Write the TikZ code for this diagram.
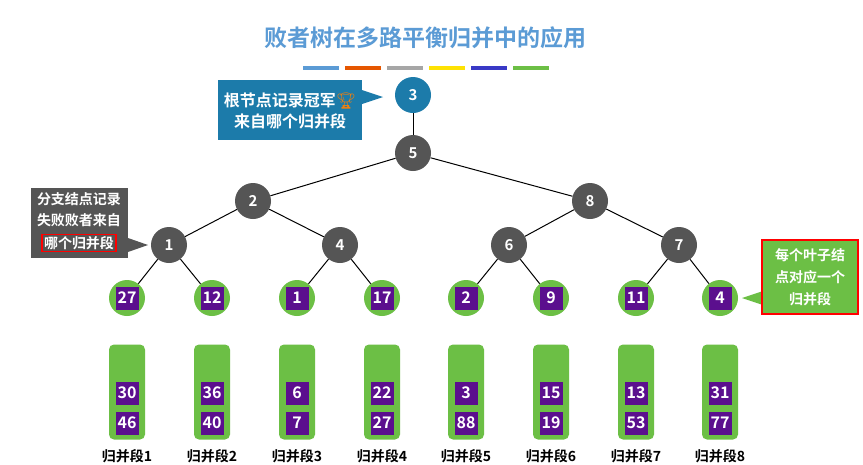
\documentclass[tikz,border=0pt]{standalone}
\usepackage{fontspec}
\setmainfont{Noto Sans CJK SC}[BoldFont={Noto Sans CJK SC Bold}]
\newfontfamily\emo{Noto Emoji}
\definecolor{tblue}{HTML}{5B9BD5}
\definecolor{rblue}{HTML}{1C7BAA}
\definecolor{dgray}{HTML}{555555}
\definecolor{lgreen}{HTML}{6CBF45}
\definecolor{purp}{HTML}{5B0F8E}
\begin{document}
\begin{tikzpicture}[x=1pt,y=-1pt,
  inner/.style={circle,fill=dgray,text=white,minimum size=36pt,inner sep=0,font=\bfseries\fontsize{15}{15}\selectfont},
  leaf/.style={circle,fill=lgreen,minimum size=36pt,inner sep=0},
  sq/.style={fill=purp,text=white,minimum size=23pt,inner sep=0,font=\bfseries\fontsize{16}{16}\selectfont},
  col/.style={fill=lgreen,rounded corners=5pt,minimum width=36pt,minimum height=95pt,inner sep=0},
  lab/.style={font=\bfseries\fontsize{14}{14}\selectfont},
  edge/.style={line width=1pt,black}]
\useasboundingbox[fill=white] (0,0) rectangle (863,464);
\node[text=tblue,font=\bfseries\fontsize{23}{23}\selectfont] (title) at (425,38) {败者树在多路平衡归并中的应用};
\foreach \c/\x in {tblue/303,orange!75!red!90!black/345,gray!70/387,yellow!85!orange/429,blue!55!gray/471,lgreen/513}
  \fill[\c] (\x,66) rectangle ++(36,4);
\node[inner,fill=rblue] (r) at (413,95) {3};
\node[inner] (n5) at (413,153) {5};
\node[inner] (n2) at (253,201) {2};
\node[inner] (n8) at (590,201) {8};
\node[inner] (n1) at (169,245) {1};
\node[inner] (n4) at (340,245) {4};
\node[inner] (n6) at (509,245) {6};
\node[inner] (n7) at (679,245) {7};
\draw[edge] (r)--(n5); \draw[edge] (n5)--(n2); \draw[edge] (n5)--(n8);
\draw[edge] (n2)--(n1); \draw[edge] (n2)--(n4); \draw[edge] (n8)--(n6); \draw[edge] (n8)--(n7);
\foreach \i/\x/\v/\a/\b in {1/127/27/30/46,2/212/12/36/40,3/297/1/6/7,4/382/17/22/27,5/466/2/3/88,6/551/9/15/19,7/636/11/13/53,8/720/4/31/77}{
  \node[leaf] (l\i) at (\x,298) {};
  \node[sq] (s\i) at (l\i) {\v};
  \node[col] (c\i) at (\x,392) {};
  \node[sq] (a\i) at (\x,393) {\a};
  \node[sq] (b\i) at (\x,423) {\b};
  \node[lab] (t\i) at (\x,456) {归并段\i};
}
\draw[edge] (n1)--(l1); \draw[edge] (n1)--(l2); \draw[edge] (n4)--(l3); \draw[edge] (n4)--(l4);
\draw[edge] (n6)--(l5); \draw[edge] (n6)--(l6); \draw[edge] (n7)--(l7); \draw[edge] (n7)--(l8);
% callouts
\fill[rblue] (218,80) rectangle (362,140);
\fill[rblue] (362,90) -- (383,97) -- (362,104) -- cycle;
\node[text=white,font=\bfseries\fontsize{16}{21}\selectfont,align=center] (cb) at (290,111) {根节点记录冠军{\color{orange!80!brown}\emo 🏆}\\来自哪个归并段};
\fill[dgray] (31,188) rectangle (128,258);
\fill[dgray] (128,238) -- (148,245) -- (128,252) -- cycle;
\node[text=white,font=\bfseries\fontsize{14}{21}\selectfont,align=center] (cg) at (79,210) {分支结点记录\\失败败者来自};
\node[draw=red,line width=1.5pt,text=white,font=\bfseries\fontsize{14}{14}\selectfont,inner sep=2pt] (cr) at (79,243) {哪个归并段};
\fill[lgreen] (742,298) -- (763,291) -- (763,305) -- cycle;
\node[fill=lgreen,draw=red,line width=1.5pt,text=white,font=\bfseries\fontsize{14}{22}\selectfont,align=center,minimum width=96pt,minimum height=74pt] (cgr) at (810,277) {每个叶子结\\点对应一个\\归并段};
\end{tikzpicture}
\end{document}
